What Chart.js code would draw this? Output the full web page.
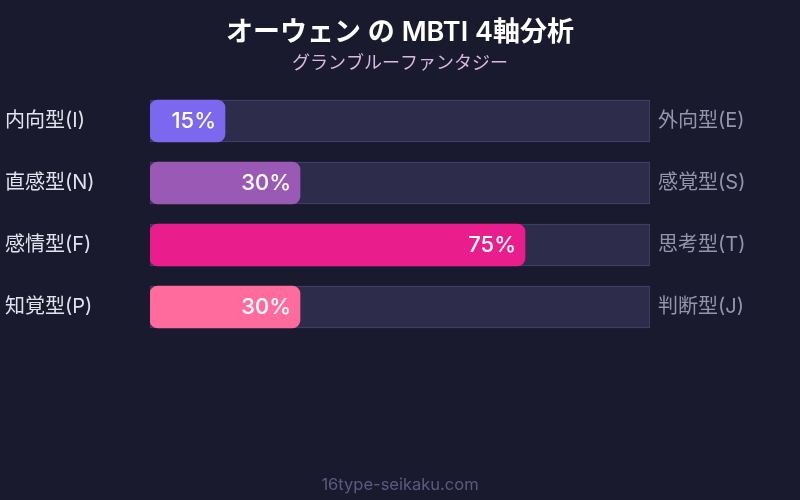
<!DOCTYPE html>
<html>
<head>
<meta charset="utf-8">
<script src="https://cdn.jsdelivr.net/npm/chart.js@4/dist/chart.umd.min.js"></script>
<style>
  html, body { margin: 0; padding: 0; background: #1a1a2e; }
  #wrap { width: 800px; height: 500px; }
</style>
</head>
<body>
<div id="wrap"><canvas id="chart"></canvas></div>
<script>
const leftLabels = ["内向型(I)", "直感型(N)", "感情型(F)", "知覚型(P)"];
const rightLabels = ["外向型(E)", "感覚型(S)", "思考型(T)", "判断型(J)"];
const scores = [15, 30, 75, 30];
const trackValues = [100, 100, 100, 100];
const barColors = ["#7b68ee", "#9b59b6", "#e91e8c", "#ff6b9d"];

const FONT = "Inter, 'Noto Sans CJK JP', sans-serif";

// 見出し・フッター・バー内のパーセント表示
const textPlugin = {
  id: "texts",
  afterDatasetsDraw(chart) {
    const ctx = chart.ctx;
    const meta = chart.getDatasetMeta(1);
    ctx.save();
    ctx.fillStyle = "#ffffff";
    ctx.font = "500 22px " + FONT;
    ctx.textAlign = "right";
    ctx.textBaseline = "middle";
    meta.data.forEach((bar, i) => {
      ctx.fillText(scores[i] + "%", bar.x - 9, bar.y);
    });
    ctx.restore();
  },
  afterDraw(chart) {
    const ctx = chart.ctx;
    const w = chart.width;
    ctx.save();
    ctx.textAlign = "center";
    ctx.textBaseline = "middle";
    ctx.fillStyle = "#ffffff";
    ctx.font = "600 27px " + FONT;
    ctx.fillText("オーウェン の MBTI 4軸分析", w / 2, 33);
    ctx.fillStyle = "#d9b8e6";
    ctx.font = "18px " + FONT;
    ctx.fillText("グランブルーファンタジー", w / 2, 64);
    ctx.fillStyle = "#5c5a80";
    ctx.font = "16.5px " + FONT;
    ctx.fillText("16type-seikaku.com", w / 2, 485);
    ctx.restore();
  }
};

new Chart(document.getElementById("chart"), {
  type: "bar",
  data: {
    labels: leftLabels,
    datasets: [
      {
        data: trackValues,
        backgroundColor: "#2e2c4b",
        borderColor: "#46446c",
        borderWidth: 1,
        borderSkipped: false,
        grouped: false,
        barThickness: 42,
        order: 2
      },
      {
        data: scores,
        backgroundColor: barColors,
        borderWidth: 0,
        borderRadius: 8,
        borderSkipped: false,
        grouped: false,
        barThickness: 42,
        order: 1
      }
    ]
  },
  options: {
    indexAxis: "y",
    responsive: true,
    maintainAspectRatio: false,
    animation: false,
    layout: { padding: { top: 90, bottom: 162, left: 5, right: 0 } },
    scales: {
      x: {
        min: 0,
        max: 100,
        display: false
      },
      y: {
        position: "left",
        grid: { display: false },
        border: { display: false },
        ticks: {
          color: "#e2e2ee",
          font: { family: FONT, size: 20 },
          crossAlign: "far",
          padding: 0
        },
        afterFit(axis) { axis.width = 145; }
      },
      yRight: {
        type: "category",
        position: "right",
        labels: rightLabels,
        grid: { display: false },
        border: { display: false },
        ticks: {
          color: "#9494ac",
          font: { family: FONT, size: 20 },
          crossAlign: "near",
          padding: 0
        },
        afterFit(axis) { axis.width = 150; }
      }
    },
    plugins: {
      legend: { display: false },
      tooltip: { enabled: false }
    }
  },
  plugins: [textPlugin]
});
</script>
</body>
</html>
